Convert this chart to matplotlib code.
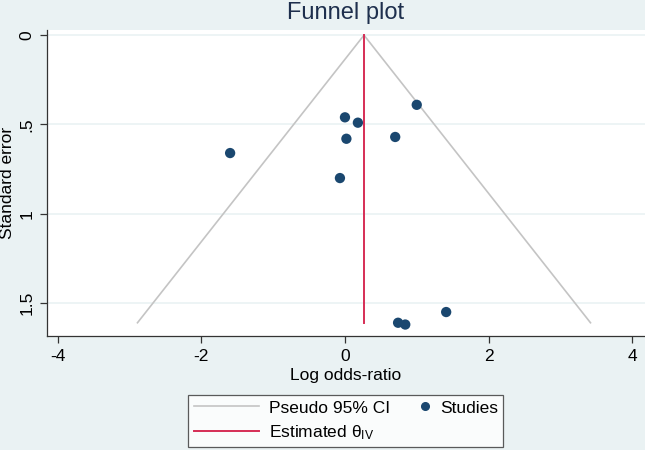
import matplotlib
matplotlib.use("Agg")
import matplotlib.pyplot as plt
from matplotlib.lines import Line2D
from matplotlib.legend_handler import HandlerLine2D

# data
log_or = [1.00, 0.00, 0.18, 0.02, 0.70, -1.60, -0.07, 1.41, 0.74, 0.84]
std_err = [0.39, 0.46, 0.49, 0.58, 0.57, 0.66, 0.80, 1.55, 1.61, 1.62]
theta_iv = 0.265
se_max = 1.61
x_ticks = [-4, -2, 0, 2, 4]
y_ticks = [0, 0.5, 1, 1.5]
y_tick_labels = ["0", ".5", "1", "1.5"]

plt.rcParams["font.family"] = ["Liberation Sans", "DejaVu Sans"]
plt.rcParams["mathtext.fontset"] = "custom"
plt.rcParams["mathtext.rm"] = "Liberation Sans"
plt.rcParams["mathtext.it"] = "Liberation Sans"

bg = "#eaf2f3"
navy = "#1a476f"
red = "#d62d55"
grey = "#c4c4c4"


# marker sits at the right end of its handle, like stata's legend
class RightMarker(HandlerLine2D):
    def get_xdata(self, legend, xdescent, ydescent, width, height, fontsize):
        x1 = width - xdescent
        return [x1 - 6, x1], [x1 - 3]


fig = plt.figure(figsize=(6.45, 4.5), dpi=100, facecolor=bg)
ax = fig.add_axes([0.073, 0.253, 0.927, 0.680])
ax.set_facecolor("white")

# horizontal grid at the y ticks
for t in y_ticks:
    ax.axhline(t, color=bg, lw=1.2, zorder=0)

# pseudo 95% CI funnel
ax.plot([theta_iv - 1.96 * se_max, theta_iv, theta_iv + 1.96 * se_max],
        [se_max, 0, se_max], color=grey, lw=1.2, zorder=1)
# estimated theta
ax.plot([theta_iv, theta_iv], [0, se_max], color=red, lw=1.4, zorder=2)
ax.scatter(log_or, std_err, s=55, color=navy, edgecolors="none", zorder=3)

ax.set_xlim(-4.15, 4.18)
ax.set_ylim(1.685, -0.028)
ax.set_xticks(x_ticks)
ax.set_xticklabels([str(t) for t in x_ticks])
ax.set_yticks(y_ticks)
ax.set_yticklabels(y_tick_labels, rotation=90, va="center")
ax.tick_params(axis="both", labelsize=12.5, length=5, width=0.9, color="#333333")
ax.tick_params(axis="x", pad=4)
ax.tick_params(axis="y", pad=4)
for s in ["top", "right"]:
    ax.spines[s].set_visible(False)
for s in ["left", "bottom"]:
    ax.spines[s].set_color("#333333")
    ax.spines[s].set_linewidth(0.9)

ax.set_xlabel("Log odds-ratio", fontsize=12.5, labelpad=3)
ax.set_ylabel("Standard error", fontsize=12.5, labelpad=3)
fig.text(0.535, 0.972, "Funnel plot", ha="center", va="center",
         fontsize=17, color="#1e2f4d")

h_ci = Line2D([], [], color=grey, lw=1.2)
h_theta = Line2D([], [], color=red, lw=1.4)
h_studies = Line2D([], [], color=navy, marker="o", ls="none", markersize=5.5)
labels = ["Pseudo 95% CI", r"Estimated $\theta_{\mathrm{IV}}$", "Studies"]
leg = fig.legend([h_ci, h_theta, h_studies], labels, ncol=2, loc="center",
                 bbox_to_anchor=(0.536, 0.064), fontsize=12.5,
                 frameon=True, fancybox=False, handlelength=3.75,
                 columnspacing=-1.49, handletextpad=0.6, borderpad=0.3,
                 labelspacing=0.45,
                 handler_map={h_studies: RightMarker(numpoints=1)})
leg.get_frame().set_edgecolor("#333333")
leg.get_frame().set_linewidth(0.9)
leg.get_frame().set_facecolor("white")

fig.savefig("out.png", dpi=100, facecolor=bg)
